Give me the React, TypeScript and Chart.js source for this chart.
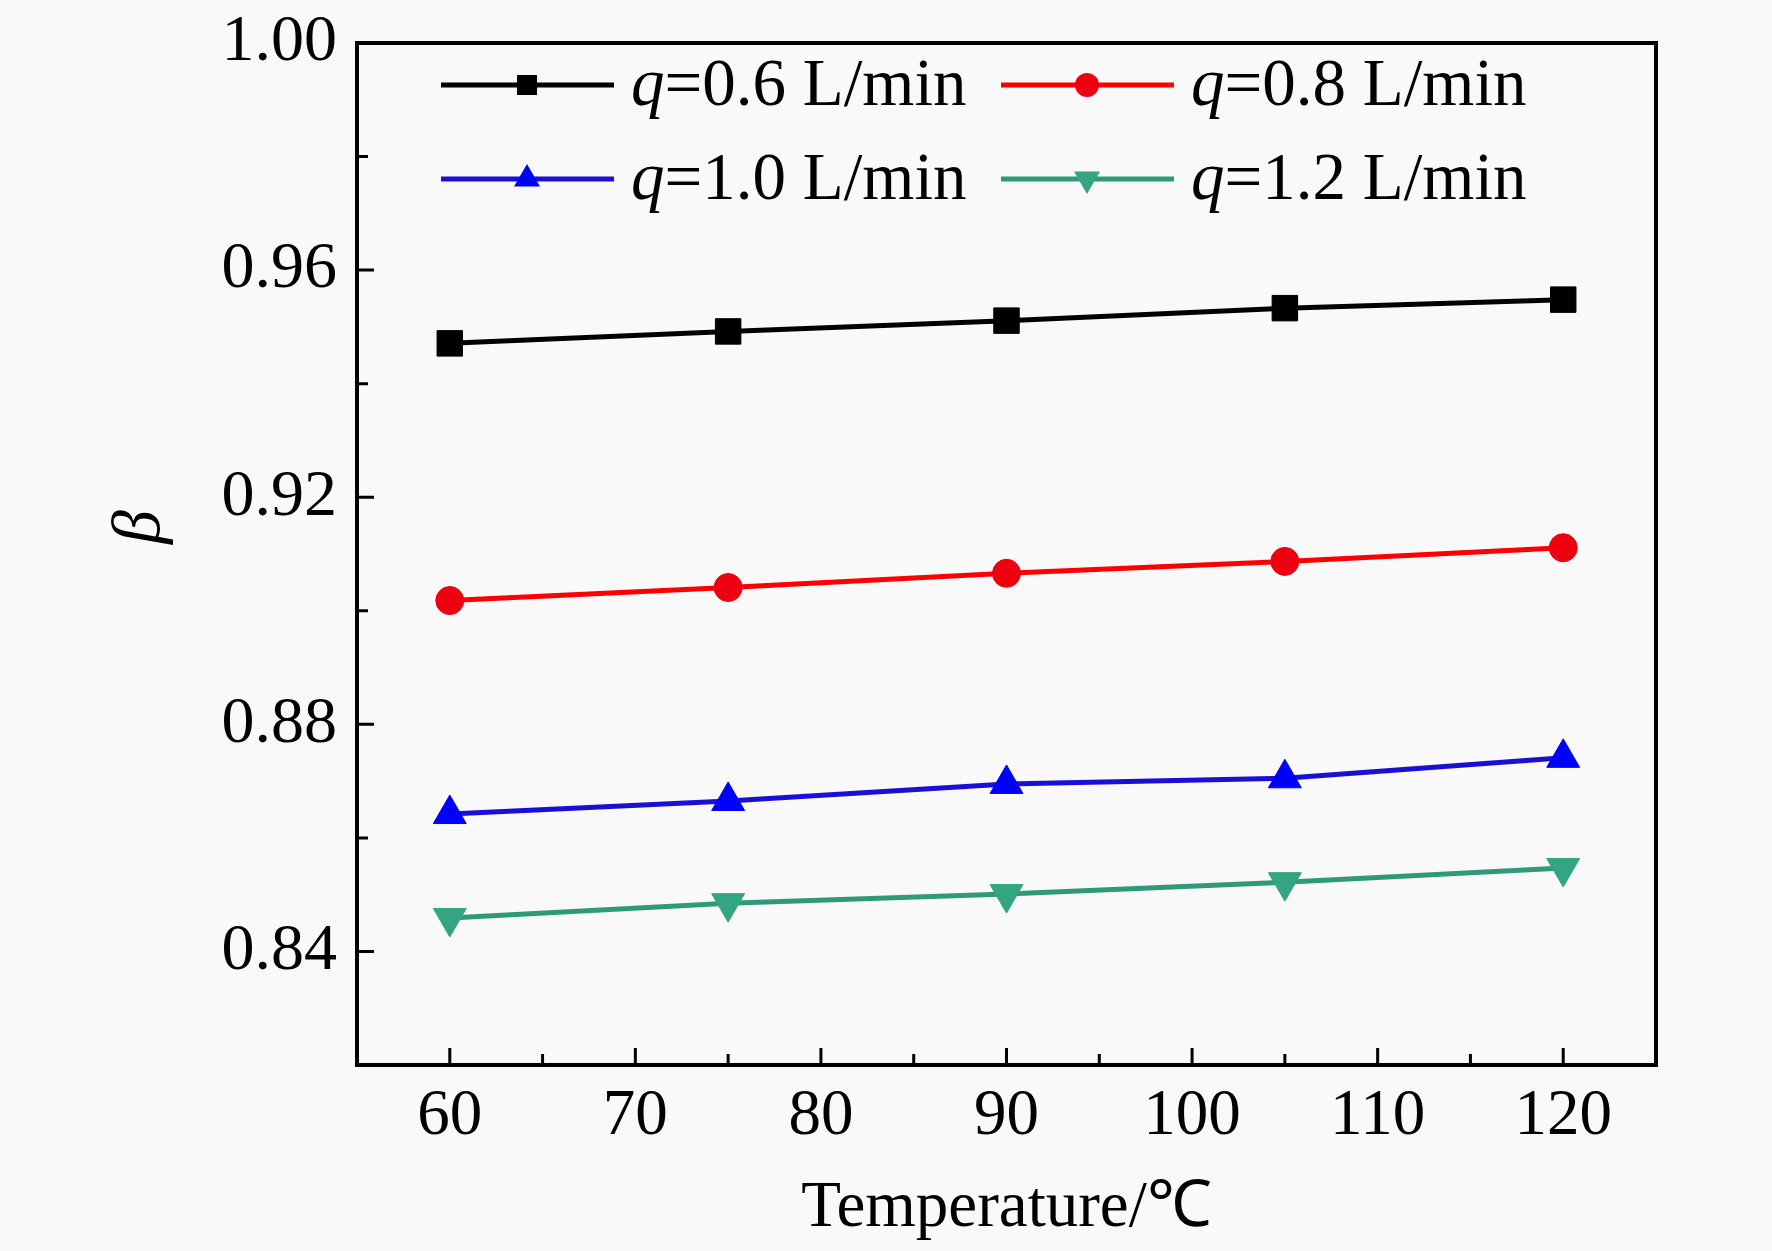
import { useEffect, useRef } from 'react';
import { Chart, registerables, type ChartConfiguration, type Plugin } from 'chart.js';

Chart.register(...registerables);

const FONT = "'Liberation Serif', 'Times New Roman', serif";

const temperatures = [60, 75, 90, 105, 120];
const flowRates = ['0.6', '0.8', '1.0', '1.2'];
const beta06 = [0.9471, 0.9492, 0.9511, 0.9533, 0.9548];
const beta08 = [0.9018, 0.9041, 0.9066, 0.9087, 0.9111];
const beta10 = [0.8642, 0.8665, 0.8695, 0.8705, 0.8741];
const beta12 = [0.8459, 0.8485, 0.8501, 0.8522, 0.8547];

const lineColors = ['#000000', '#ff0000', '#1a0fd6', '#2e9a78'];
const markerColors = ['#000000', '#ee0010', '#0000ff', '#33a582'];
const markers = ['rect', 'circle', 'triangle', 'triangle'] as const;
const markerRotation = [0, 0, 0, 180];
const markerRadius = [18, 14, 19, 19];

const allSeries = [beta06, beta08, beta10, beta12];

function drawMarker(ctx: CanvasRenderingContext2D, kind: number, x: number, y: number) {
  ctx.fillStyle = markerColors[kind];
  ctx.beginPath();
  if (kind === 0) {
    ctx.rect(x - 10, y - 10, 20, 20);
  } else if (kind === 1) {
    ctx.arc(x, y, 12, 0, Math.PI * 2);
  } else {
    const r = 15;
    const dir = kind === 2 ? 1 : -1;
    ctx.moveTo(x, y - dir * r);
    ctx.lineTo(x + r * 0.866, y + dir * r * 0.5);
    ctx.lineTo(x - r * 0.866, y + dir * r * 0.5);
    ctx.closePath();
  }
  ctx.fill();
}

const framePlugin: Plugin = {
  id: 'frame',
  beforeDraw(chart) {
    const { ctx, width, height } = chart;
    ctx.save();
    ctx.fillStyle = '#f9f9f9';
    ctx.fillRect(0, 0, width, height);
    ctx.restore();
  },
  afterDraw(chart) {
    const { ctx, chartArea: a } = chart;
    const xs = chart.scales.x;
    const ys = chart.scales.y;
    ctx.save();
    ctx.strokeStyle = '#000';
    ctx.lineWidth = 4;
    ctx.strokeRect(a.left, a.top, a.right - a.left, a.bottom - a.top);

    ctx.lineWidth = 3;
    ctx.beginPath();
    xs.ticks.forEach((t) => {
      const px = xs.getPixelForValue(t.value);
      if (px <= a.left + 2 || px >= a.right - 2) return;
      const len = Math.round(t.value) % 10 === 0 ? 17 : 11;
      ctx.moveTo(px, a.bottom);
      ctx.lineTo(px, a.bottom - len);
    });
    ys.ticks.forEach((t) => {
      const py = ys.getPixelForValue(t.value);
      if (py <= a.top + 2 || py >= a.bottom - 2) return;
      const len = Math.round(t.value * 100) % 4 === 0 ? 17 : 11;
      ctx.moveTo(a.left, py);
      ctx.lineTo(a.left + len, py);
    });
    ctx.stroke();

    // axis titles
    ctx.fillStyle = '#000';
    ctx.font = `65px ${FONT}`;
    ctx.textAlign = 'center';
    ctx.textBaseline = 'middle';
    ctx.fillText('Temperature/℃', (a.left + a.right) / 2, 1209);
    ctx.save();
    ctx.translate(141, 527);
    ctx.rotate(-Math.PI / 2);
    ctx.font = `italic 68px ${FONT}`;
    ctx.fillText('β', 0, 0);
    ctx.restore();

    // legend
    const cols = [a.left + 84, a.left + 644];
    const rows = [a.top + 42, a.top + 136];
    flowRates.forEach((q, i) => {
      const x0 = cols[i % 2];
      const y0 = rows[Math.floor(i / 2)];
      ctx.strokeStyle = lineColors[i];
      ctx.lineWidth = 5;
      ctx.beginPath();
      ctx.moveTo(x0, y0);
      ctx.lineTo(x0 + 173, y0);
      ctx.stroke();
      drawMarker(ctx, i, x0 + 86, y0);
      ctx.fillStyle = '#000';
      ctx.textAlign = 'left';
      ctx.textBaseline = 'middle';
      ctx.font = `italic 67px ${FONT}`;
      const tx = x0 + 190;
      ctx.fillText('q', tx, y0 + 2);
      const w = ctx.measureText('q').width;
      ctx.font = `67px ${FONT}`;
      ctx.fillText(`=${q} L/min`, tx + w, y0 + 2);
    });
    ctx.restore();
  },
};

export default function App() {
  const canvas = useRef<HTMLCanvasElement>(null);
  useEffect(() => {
    if (!canvas.current) return;
    const config: ChartConfiguration = {
      type: 'line',
      data: {
        datasets: allSeries.map((vals, i) => ({
          label: `q=${flowRates[i]} L/min`,
          data: vals.map((v, j) => ({ x: temperatures[j], y: v })),
          borderColor: lineColors[i],
          backgroundColor: markerColors[i],
          borderWidth: 5,
          pointStyle: markers[i],
          pointRotation: markerRotation[i],
          pointRadius: markerRadius[i],
          pointBorderColor: markerColors[i],
          pointBackgroundColor: markerColors[i],
          pointBorderWidth: 1,
          tension: 0,
        })),
      },
      options: {
        animation: false,
        responsive: true,
        maintainAspectRatio: false,
        devicePixelRatio: 1,
        layout: { padding: { left: 0, top: 43, right: 116, bottom: 0 } },
        plugins: { legend: { display: false }, tooltip: { enabled: false } },
        scales: {
          x: {
            type: 'linear',
            min: 55,
            max: 125,
            grid: { display: false },
            border: { display: false },
            ticks: {
              stepSize: 5,
              padding: 5,
              color: '#000',
              font: { family: FONT, size: 65 },
              callback: (v) => (Math.round(Number(v)) % 10 === 0 ? String(v) : ''),
              maxRotation: 0,
              autoSkip: false,
            },
            afterFit: (s) => {
              s.height = 186;
              s.paddingLeft = 0;
              s.paddingRight = 0;
            },
          },
          y: {
            type: 'linear',
            min: 0.82,
            max: 1.0,
            grid: { display: false },
            border: { display: false },
            ticks: {
              stepSize: 0.02,
              padding: 12,
              color: '#000',
              font: { family: FONT, size: 66 },
              callback: (v) => {
                const n = Number(v);
                return Math.round(n * 100) % 4 === 0 ? n.toFixed(2) : '';
              },
              autoSkip: false,
            },
            afterFit: (s) => {
              s.width = 357;
              s.paddingTop = 0;
              s.paddingBottom = 0;
            },
          },
        },
      },
      plugins: [framePlugin],
    };
    const chart = new Chart(canvas.current, config);
    return () => chart.destroy();
  }, []);
  return (
    <div style={{ position: 'absolute', left: 0, top: 0, width: 1772, height: 1251 }}>
      <canvas ref={canvas} />
    </div>
  );
}
